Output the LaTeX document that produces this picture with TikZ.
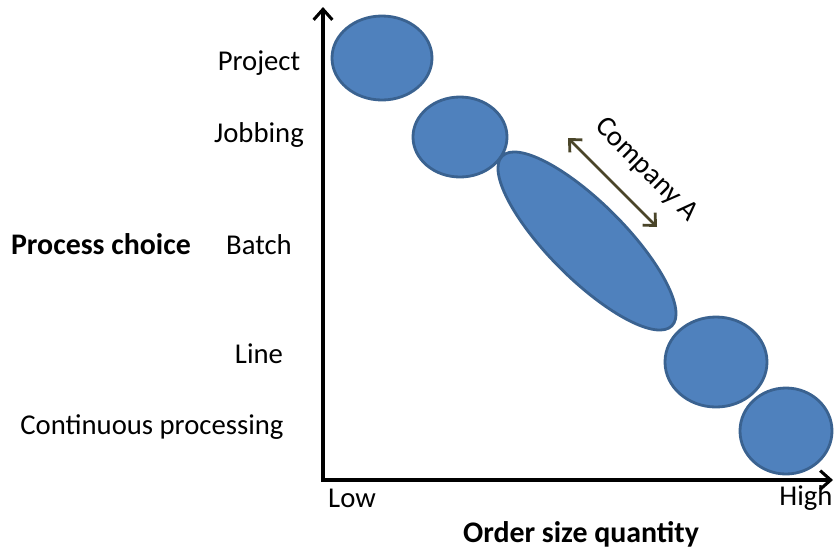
\documentclass[tikz,border=0pt]{standalone}
\usepackage{fontspec}
\setmainfont{Carlito}
\usetikzlibrary{arrows.meta,shapes.geometric}
\definecolor{procfill}{HTML}{4F81BD}
\definecolor{procdraw}{HTML}{3A6290}
\definecolor{olivearrow}{HTML}{4A4529}
\tikzstyle{axis}=[line width=3.2pt, draw=black, -{Straight Barb[length=9pt,width=16pt,line width=2.6pt]}]
\tikzstyle{blob}=[ellipse, draw=procdraw, fill=procfill, line width=2.4pt, inner sep=0pt]
\tikzstyle{lab}=[inner sep=0pt, font=\fontsize{24.5}{28}\selectfont]
\tikzstyle{title}=[inner sep=0pt, font=\fontsize{25.5}{29}\selectfont\bfseries]
\tikzstyle{span}=[line width=2.4pt, draw=olivearrow, {Straight Barb[length=8pt,width=15pt]}-{Straight Barb[length=8pt,width=15pt]}]

\begin{document}
\begin{tikzpicture}[x=0.03cm, y=-0.03cm]
				\useasboundingbox (0,0) rectangle (834,548);
				
				%The axes
				\coordinate (o) at (323,480);
				\coordinate (ytop) at (323,7);
				\coordinate (xend) at (833,480);
				\draw[axis] ([yshift=-1.6pt]o) -- (ytop);
				\draw[axis] ([xshift=-1.6pt]o) -- (xend);
				
				%The process blobs
				\draw (382,58) node[blob, minimum width=3cm, minimum height=2.52cm] (project) {};
				\draw (460,137) node[blob, minimum width=2.82cm, minimum height=2.4cm] (jobbing) {};
				\draw (587,241) node[blob, minimum width=7.2cm, minimum height=2.28cm, rotate=-45] (batch) {};
				\draw (716,362) node[blob, minimum width=3.06cm, minimum height=2.7cm] (line) {};
				\draw (786,431) node[blob, minimum width=2.76cm, minimum height=2.58cm] (cont) {};
				
				%The process labels
				\draw (259,63) node[lab] (lproject) {Project};
				\draw (259,135) node[lab] (ljobbing) {Jobbing};
				\draw (259,245) node[lab] (lbatch) {Batch};
				\draw (259,354) node[lab] (lline) {Line};
				\draw (152,427) node[lab] (lcont) {Continuous processing};
				\draw (101,244) node[title] (ychoice) {Process choice};
				
				%The quantity labels
				\draw (352,498) node[lab] (low) {Low};
				\draw (806,498) node[lab] (high) {High};
				\draw (581,534) node[title] (xsize) {Order size quantity};
				
				%Company A
				\coordinate (ca1) at (568,138);
				\coordinate (ca2) at (657,227);
				\draw[span] (ca1) -- (ca2);
				\draw (646,170) node[lab, rotate=-45] (company) {Company A};
			\end{tikzpicture}
\end{document}
